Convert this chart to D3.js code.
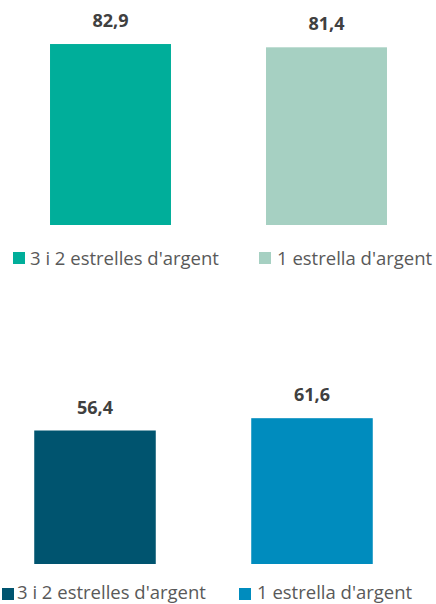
<!DOCTYPE html>
<html><head><meta charset="utf-8">
<script src="https://cdn.jsdelivr.net/npm/d3@7"></script>
<style>
html,body{margin:0;padding:0;background:#fff;}
svg{display:block;}
</style></head>
<body>
<svg id="c" width="436" height="604"></svg>
<script>
const categories = ["3 i 2 estrelles d'argent", "1 estrella d'argent"];
const topValues = [82.9, 81.4];
const bottomValues = [56.4, 61.6];
const topColors = ["#00AE9A", "#A6D0C2"];
const bottomColors = ["#00546F", "#008CBE"];

const svg = d3.select("#c");
const legendFont = "'Open Sans', sans-serif";
const valueFont = "'Open Sans', sans-serif";

const panels = [
  {values: topValues, colors: topColors, xRange: [2.5, 434.5], yRange: [225, 6.7],
   legend: {swatchX: [13, 259], y: 252, textX: [30, 277], base: 265}},
  {values: bottomValues, colors: bottomColors, xRange: [-13.5, 420.5], yRange: [564, 327.3],
   legend: {swatchX: [2, 239], y: 588, textX: [17, 257], base: 599}}
];

panels.forEach(p => {
  const x = d3.scaleBand().domain(categories).range(p.xRange).paddingInner(0.44).paddingOuter(0.22);
  const y = d3.scaleLinear().domain([0, 100]).range(p.yRange);
  const data = categories.map((c, i) => ({c, v: p.values[i], color: p.colors[i], i}));
  const g = svg.append("g");
  g.selectAll("rect.bar").data(data).join("rect").attr("class","bar")
    .attr("x", d => x(d.c)).attr("width", x.bandwidth())
    .attr("y", d => y(d.v)).attr("height", d => y(0) - y(d.v))
    .attr("fill", d => d.color);
  g.selectAll("text.val").data(data).join("text").attr("class","val")
    .attr("x", d => x(d.c) + x.bandwidth()/2).attr("y", d => y(d.v) - 17)
    .attr("text-anchor","middle").attr("font-family", valueFont)
    .attr("font-weight","bold").attr("font-size", 18).attr("fill","#404040")
    .text(d => d3.format(".1f")(d.v).replace(".", ","));
  const lg = g.selectAll("g.leg").data(data).join("g").attr("class","leg");
  lg.append("rect").attr("x", d => p.legend.swatchX[d.i]).attr("y", p.legend.y)
    .attr("width", 12).attr("height", 12).attr("fill", d => d.color);
  lg.append("text").attr("x", d => p.legend.textX[d.i]).attr("y", p.legend.base)
    .attr("font-family", legendFont).attr("font-size", 18.5).attr("fill","#595959")
    .text(d => d.c);
});
</script>
</body></html>
